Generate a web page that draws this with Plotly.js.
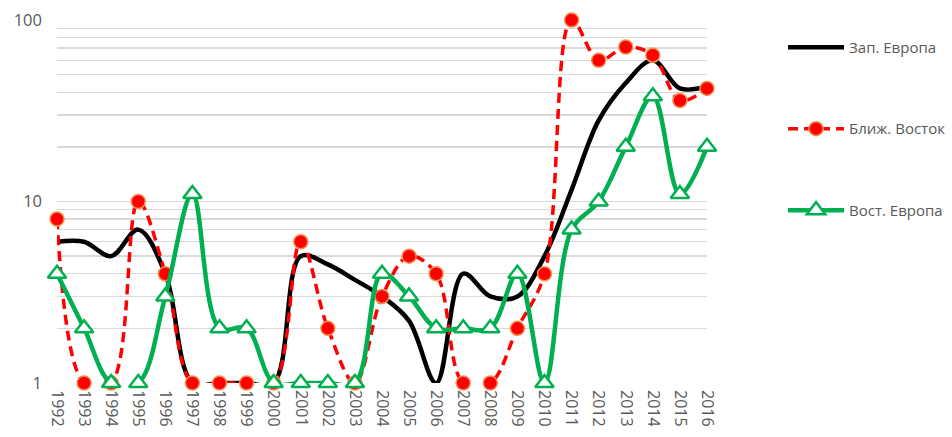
<!DOCTYPE html>
<html>
<head>
<meta charset="utf-8">
<script src="https://cdn.plot.ly/plotly-3.0.1.min.js"></script>
<style>
  html, body { margin: 0; padding: 0; background: #ffffff; }
  #chart { width: 952px; height: 437px; }
</style>
</head>
<body>
<div id="chart"></div>
<script>
// Categories (years)
const years = ['1992','1993','1994','1995','1996','1997','1998','1999','2000','2001','2002','2003','2004',
               '2005','2006','2007','2008','2009','2010','2011','2012','2013','2014','2015','2016'];

// Series values (log scale)
const westEurope = [6, 6, 5, 7, 4, 1, 1, 1, 1, 5, 4.5, 3.7, 3, 2.2, 1, 4, 3, 3, 5, 11.6, 28, 45, 60, 42, 43];
const middleEast = [8, 1, 1, 10, 4, 1, 1, 1, 1, 6, 2, 1, 3, 5, 4, 1, 1, 2, 4, 100, 60, 71, 64, 36, 42];
const eastEurope = [4, 2, 1, 1, 3, 11, 2, 2, 1, 1, 1, 1, 4, 3, 2, 2, 2, 4, 1, 7, 10, 20, 38, 11, 20];

// Series names
const seriesNames = ['Зап. Европа', 'Ближ. Восток', 'Вост. Европа'];

// Axis ticks
const yTickVals = [1, 10, 100];
const yTickText = ['1', '10', '100'];
const yMinorVals = [2, 3, 4, 5, 6, 7, 8, 9, 20, 30, 40, 50, 60, 70, 80, 90];

const FONT = '"Open Sans", "Noto Sans", sans-serif';
const TEXT = '#595959';
const GRID = '#D9D9D9';

const traces = [
  {
    x: years, y: westEurope, name: seriesNames[0], legendgroup: 'g1',
    type: 'scatter', mode: 'lines',
    line: { color: '#000000', width: 4.5, shape: 'spline', smoothing: 1 },
    cliponaxis: false
  },
  {
    x: years, y: middleEast, name: seriesNames[1], legendgroup: 'g2',
    type: 'scatter', mode: 'lines+markers',
    line: { color: '#FF0000', width: 3.5, dash: '10px,6px', shape: 'spline', smoothing: 1 },
    marker: { symbol: 'circle', size: 14, color: '#FF0000', line: { color: '#F2914F', width: 1.5 } },
    cliponaxis: false
  },
  {
    x: years, y: eastEurope, name: seriesNames[2], legendgroup: 'g3',
    type: 'scatter', mode: 'lines+markers',
    line: { color: '#00B050', width: 4.5, shape: 'spline', smoothing: 1 },
    marker: { symbol: 'triangle-up', size: 16, color: '#FFFFFF', line: { color: '#00B050', width: 2.5 } },
    cliponaxis: false
  }
];

const layout = {
  width: 952, height: 437,
  margin: { l: 57, r: 245, t: 20, b: 54, pad: 0, autoexpand: false },
  paper_bgcolor: '#FFFFFF', plot_bgcolor: '#FFFFFF',
  font: { family: FONT, color: TEXT, size: 16 },
  showlegend: true,
  legend: {
    x: 1.117, xanchor: 'left', y: 0.97, yanchor: 'top',
    font: { family: FONT, size: 15, color: TEXT },
    itemwidth: 56, tracegroupgap: 59, bgcolor: 'rgba(0,0,0,0)',
    traceorder: 'grouped'
  },
  xaxis: {
    type: 'category', range: [0, 24],
    showgrid: false, zeroline: false, showline: false, ticks: '',
    tickangle: 90, ticklabelstandoff: 6,
    tickfont: { family: FONT, size: 16, color: TEXT },
    fixedrange: true
  },
  yaxis: {
    type: 'log', range: [0, 2],
    tickmode: 'array', tickvals: yTickVals, ticktext: yTickText,
    showgrid: true, gridcolor: GRID, gridwidth: 1.3,
    zeroline: false, showline: false, ticks: '',
    ticklabelstandoff: 14,
    tickfont: { family: FONT, size: 16.5, color: TEXT },
    minor: { tickmode: 'array', tickvals: yMinorVals, showgrid: true, gridcolor: GRID, gridwidth: 1.3, ticks: '' },
    fixedrange: true
  }
};

Plotly.newPlot('chart', traces, layout, { displayModeBar: false, staticPlot: true });
</script>
</body>
</html>
